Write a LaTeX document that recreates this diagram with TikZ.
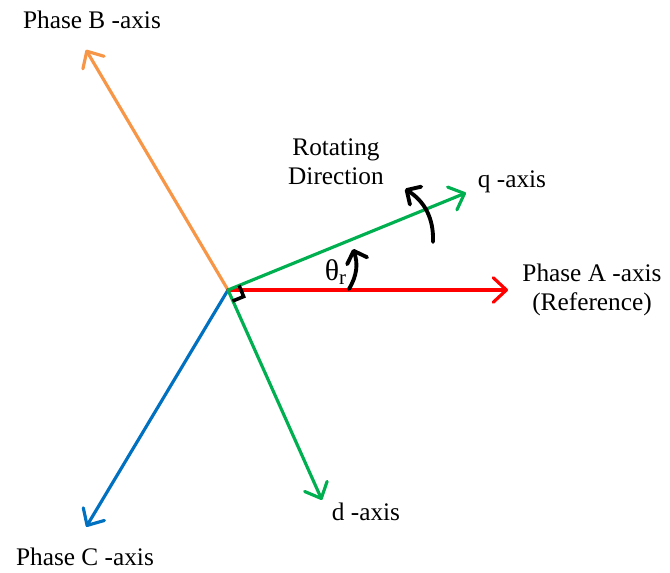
\documentclass[tikz,border=0pt]{standalone}
\usepackage{xcolor}
\usepackage{fontspec}
\setmainfont{Liberation Serif}
\usepackage{tikz}
\usetikzlibrary{arrows.meta,positioning,calc}

\definecolor{phaseA}{RGB}{255,0,0}
\definecolor{phaseB}{RGB}{247,150,70}
\definecolor{phaseC}{RGB}{0,112,192}
\definecolor{dqgreen}{RGB}{0,176,80}

\tikzset{
  axisline/.style={line width=1.8pt, line cap=round,
    -{Straight Barb[length=7.5pt,width=14pt,line cap=round,line join=round]}},
  turnarrow/.style={black, line width=2.2pt, line cap=round,
    -{Straight Barb[length=6pt,width=12pt,line cap=round,line join=round]}},
  lbl/.style={font=\fontsize{14.4}{16.5}\selectfont, align=center, inner sep=0pt}
}

\begin{document}
\begin{tikzpicture}[x=0.02cm, y=0.02cm]
    \useasboundingbox (0,0) rectangle (670,573);
    % origin and axis tips
    \coordinate (O) at (228,283);
    \coordinate (A) at ($(O)+(0:280)$);
    \coordinate (B) at ($(O)+(120.6:279)$);
    \coordinate (C) at ($(O)+(239.1:276)$);
    \coordinate (q) at ($(O)+(22.2:257)$);
    \coordinate (d) at ($(O)+(-65.9:230)$);
    % axes
    \draw[axisline, phaseB] (O) -- (B);
    \draw[axisline, phaseC] (O) -- (C);
    \draw[axisline, phaseA] (O) -- (A);
    \draw[axisline, dqgreen] (O) -- (q);
    \draw[axisline, dqgreen] (O) -- (d);
    % right angle between q and d
    \coordinate (r1) at ($(O)+(22.2:12)$);
    \coordinate (r2) at ($(r1)+(-67.8:12)$);
    \coordinate (r3) at ($(O)+(-67.8:12)$);
    \draw[black, line width=2pt] (r1) -- (r2) -- (r3);
    % angle and rotation arrows
    \coordinate (th1) at (349,284);
    \coordinate (th2) at (353,324);
    \draw[turnarrow] (th1) to[bend right=25] (th2);
    \coordinate (rot1) at (433,331);
    \coordinate (rot2) at (405,384);
    \draw[turnarrow] (rot1) to[bend right=30] (rot2);
    % labels
    \node[lbl] (labA) at (592,283) {Phase A -axis\\(Reference)};
    \node[lbl] (labB) at (92,553) {Phase B -axis};
    \node[lbl] (labC) at (85,16) {Phase C -axis};
    \node[lbl] (labq) at (512,391) {q -axis};
    \node[lbl] (labd) at (366,61) {d -axis};
    \node[lbl] (labrot) at (336,411) {Rotating\\Direction};
    \node[lbl, font=\fontsize{17}{20}\selectfont] (labth) at (336,301) {θ\textsubscript{r}};
\end{tikzpicture}
\end{document}
